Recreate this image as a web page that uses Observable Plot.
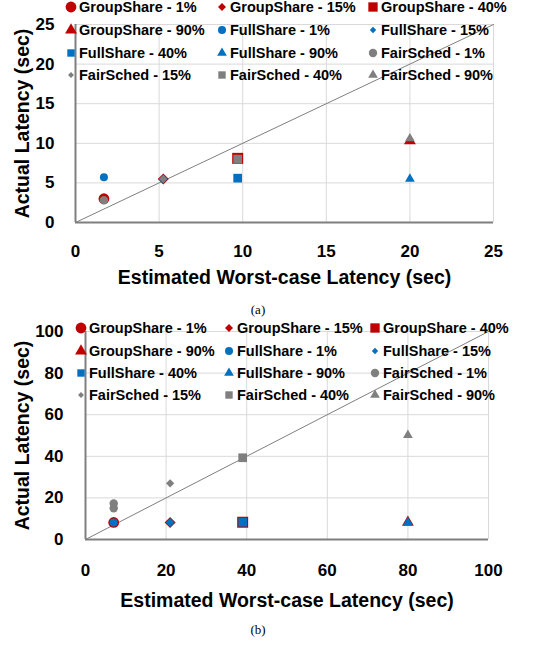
<!DOCTYPE html>
<html><head><meta charset="utf-8">
<script src="https://cdn.jsdelivr.net/npm/d3@7"></script>
<script src="https://cdn.jsdelivr.net/npm/@observablehq/plot@0.6"></script>
<style>
body{margin:0;background:#fff;}
#root{position:relative;width:533px;height:645px;overflow:hidden;font-family:"Liberation Sans",Arial,sans-serif;}
.panel{position:absolute;left:0;}
.item{position:absolute;display:flex;align-items:center;height:22px;white-space:nowrap;font-weight:bold;font-size:14.5px;color:#000;}
.item svg{overflow:visible;flex:none;}
.cap{position:absolute;font-family:"Liberation Serif",serif;font-size:13px;transform:translate(-50%,-50%);color:#000;}
g[aria-label="x-axis label"] text, g[aria-label="y-axis label"] text{font-size:19.5px;}
</style>
</head><body><div id="root"></div>
<script>
// ---- data ----
const series = ["GroupShare", "FullShare", "FairSched"];
const loads = ["1%", "15%", "40%", "90%"];
const colors = ["#C00000", "#0070C0", "#7F7F7F"];
const symbolNames = ["circle", "diamond2", "square", "triangle"];

// panel (a)
const estA = [1.7, 5.25, 9.7, 20];
const groupShareA = [3.0, 5.5, 8.1, 10.3];
const fullShareA = [5.7, 5.5, 5.6, 5.5];
const fairSchedA = [2.8, 5.5, 8.0, 10.6];
const ticksA = [0, 5, 10, 15, 20, 25];

// panel (b)
const estB = [7, 21, 39, 80];
const groupShareB = [8.2, 8.2, 8.3, 8.2];
const fullShareB = [8.2, 8.2, 8.3, 8.2];
const fairSchedB = [[17.3, 15.0], 27.0, 39.3, 50.2];
const ticksB = [0, 20, 40, 60, 80, 100];

const xTitle = "Estimated Worst-case Latency (sec)";
const yTitle = "Actual Latency (sec)";

// ---- styles ----
const markerR = [
  [5.4, 5.0, 6.2, 4.4],
  [4.0, 4.0, 4.9, 3.6],
  [4.2, 3.7, 4.9, 3.6]
];
const legendScale = [1, 0.72, 0.85, 1];
const d3Symbols = [d3.symbolCircle, d3.symbolDiamond2, d3.symbolSquare, d3.symbolTriangle];

function rows(est, vals) {
  const out = [];
  series.forEach((s, si) => loads.forEach((l, li) => {
    [].concat(vals[si][li]).forEach(y => out.push({series: s, load: l, x: est[li], y, r: markerR[si][li]}));
  }));
  return out;
}

const root = document.getElementById("root");

function panel({top, est, vals, ticks, height, mt, mb, ml, mr, xPad, yPad, xLabOff, yLabOff}) {
  const data = rows(est, vals);
  const maxV = ticks[ticks.length - 1];
  const diag = [0, maxV];
  const svg = Plot.plot({
    width: 533, height,
    marginTop: mt, marginBottom: mb, marginLeft: ml, marginRight: mr,
    style: {fontFamily: '"Liberation Sans", Arial, sans-serif', fontWeight: "bold", fontSize: "17px", color: "#000", background: "transparent", overflow: "visible"},
    x: {domain: [0, maxV], ticks, tickSize: 0, tickPadding: xPad, label: xTitle, labelAnchor: "center", labelArrow: false, labelOffset: xLabOff},
    y: {domain: [0, maxV], ticks, tickSize: 0, tickPadding: yPad, label: yTitle, labelAnchor: "center", labelArrow: false, labelOffset: yLabOff},
    color: {domain: series, range: colors},
    symbol: {domain: loads, range: symbolNames},
    r: {type: "identity"},
    marks: [
      Plot.gridX(ticks.slice(1), {stroke: "#d9d9d9", strokeOpacity: 1, strokeWidth: 1}),
      Plot.gridY(ticks.slice(1), {stroke: "#d9d9d9", strokeOpacity: 1, strokeWidth: 1}),
      Plot.ruleX([0], {stroke: "#7f7f7f", strokeWidth: 2}),
      Plot.ruleY([0], {stroke: "#7f7f7f", strokeWidth: 2}),
      Plot.line(diag, {x: d => d, y: d => d, stroke: "#7f7f7f", strokeWidth: 1}),
      Plot.dot(data, {x: "x", y: "y", fill: "series", symbol: "load", r: "r"})
    ]
  });
  svg.classList.add("panel");
  svg.style.top = top + "px";
  root.append(svg);
}

function legend(top, colLefts, rowYs) {
  const items = series.flatMap((s, si) => loads.map((l, li) => ({s, si, l, li})));
  items.forEach((it, i) => {
    const r = Math.floor(i / 3), c = i % 3;
    const div = document.createElement("div");
    div.className = "item";
    div.style.left = colLefts[c] + "px";
    div.style.top = (top + rowYs[r] - 11) + "px";
    const R = markerR[it.si][it.li] * legendScale[it.li];
    const path = d3.symbol(d3Symbols[it.li], Math.PI * R * R)();
    div.innerHTML = `<svg width="14" height="22"><path transform="translate(7,11)" d="${path}" fill="${colors[it.si]}"/></svg><span style="margin-left:1px">${it.s} - ${it.l}</span>`;
    root.append(div);
  });
}

function caption(text, x, y) {
  const d = document.createElement("div");
  d.className = "cap";
  d.textContent = text;
  d.style.left = x + "px";
  d.style.top = y + "px";
  root.append(d);
}

panel({top: 0, est: estA, vals: [groupShareA, fullShareA, fairSchedA], ticks: ticksA,
  height: 290, mt: 24, mb: 68, ml: 75, mr: 40, xPad: 22, yPad: 21, xLabOff: 61, yLabOff: 60});
legend(0, [64, 215, 366], [7.3, 30, 52.7, 75]);
caption("(a)", 258, 310);

panel({top: 320, est: estB, vals: [groupShareB, fullShareB, fairSchedB], ticks: ticksB,
  height: 300, mt: 11, mb: 81, ml: 85, mr: 45, xPad: 24, yPad: 22, xLabOff: 67, yLabOff: 70});
legend(320, [74, 222, 368], [8.3, 30.7, 52.7, 75]);
caption("(b)", 258, 630);
</script>
</body></html>
